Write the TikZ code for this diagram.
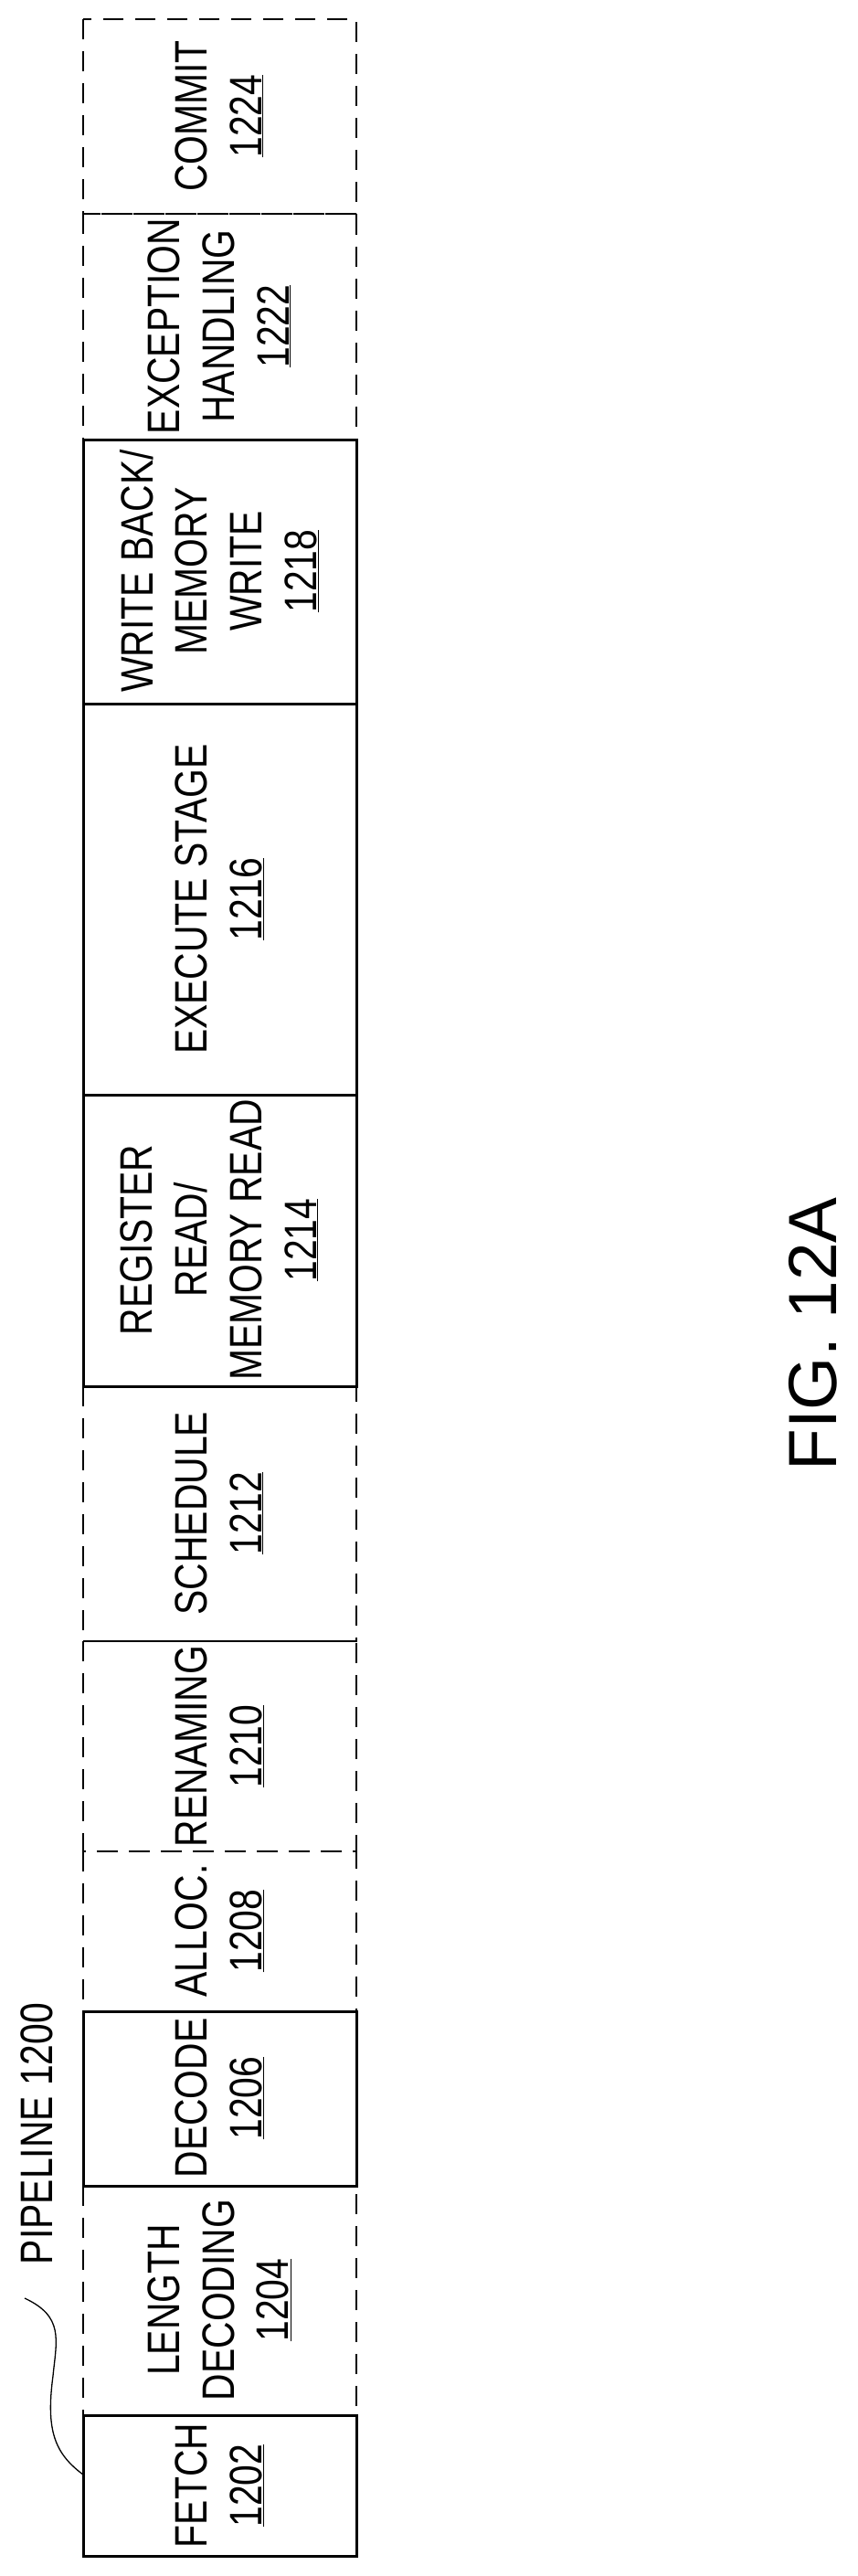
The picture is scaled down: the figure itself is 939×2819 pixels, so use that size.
\documentclass[tikz,border=0pt]{standalone}
\usepackage{fontspec}
\newfontfamily\pf[FakeStretch=0.82]{Liberation Sans}
\newfontfamily\ff{Liberation Sans}
\newcommand\lbl{\pf\fontsize{50}{60}\selectfont}
\begin{document}
\begin{tikzpicture}[x=1bp,y=-1bp,
  solidbox/.style={draw,line width=3bp},
  dashbox/.style={draw,line width=2.5bp,dash pattern=on 22bp off 13bp},
  txt/.style={rotate=90,align=center,font=\lbl,inner sep=0pt}]
\useasboundingbox (0,0) rectangle (939,2819);
% dashed boxes
\draw[dashbox] (91,21) rectangle (390,234);
\draw[dashbox] (91,234) rectangle (390,481);
\draw[dashbox] (91,1517) rectangle (390,1796);
\draw[dashbox] (91,1796) rectangle (390,2026);
\draw[dashbox] (91,2026) rectangle (390,2201);
\draw[dashbox] (91,2392) rectangle (390,2643);
% solid boxes
\draw[solidbox] (91,481) rectangle (390,770);
\draw[solidbox] (91,770) rectangle (390,1198);
\draw[solidbox] (91,1198) rectangle (390,1517);
\draw[solidbox] (91,2201) rectangle (390,2392);
\draw[solidbox] (91,2643) rectangle (390,2797);
% labels
\node[txt] (commit) at (240,127) {COMMIT\\\underline{1224}};
\node[txt] (exc) at (240,357) {EXCEPTION\\HANDLING\\\underline{1222}};
\node[txt] (wb) at (240,625) {WRITE BACK/\\MEMORY\\WRITE\\\underline{1218}};
\node[txt] (exe) at (240,984) {EXECUTE STAGE\\\underline{1216}};
\node[txt] (rr) at (240,1357) {REGISTER\\READ/\\MEMORY READ\\\underline{1214}};
\node[txt] (sch) at (240,1656) {SCHEDULE\\\underline{1212}};
\node[txt] (ren) at (240,1911) {RENAMING\\\underline{1210}};
\node[txt] (alloc) at (240,2113) {ALLOC.\\\underline{1208}};
\node[txt] (dec) at (240,2296) {DECODE\\\underline{1206}};
\node[txt] (len) at (240,2517) {LENGTH\\DECODING\\\underline{1204}};
\node[txt] (fetch) at (240,2720) {FETCH\\\underline{1202}};
\node[txt] (pipe) at (40,2335) {PIPELINE 1200};
\coordinate (c0) at (27,2515);
\coordinate (c1) at (91,2708);
\draw[line width=1.3bp] (c0) .. controls (70,2535) and (62,2560) .. (58,2600)
  .. controls (50,2660) and (60,2685) .. (c1);
\node[rotate=90,font=\ff\fontsize{75}{80}\selectfont,inner sep=0pt] (fig) at (890,1460) {FIG. 12A};
\end{tikzpicture}
\end{document}
